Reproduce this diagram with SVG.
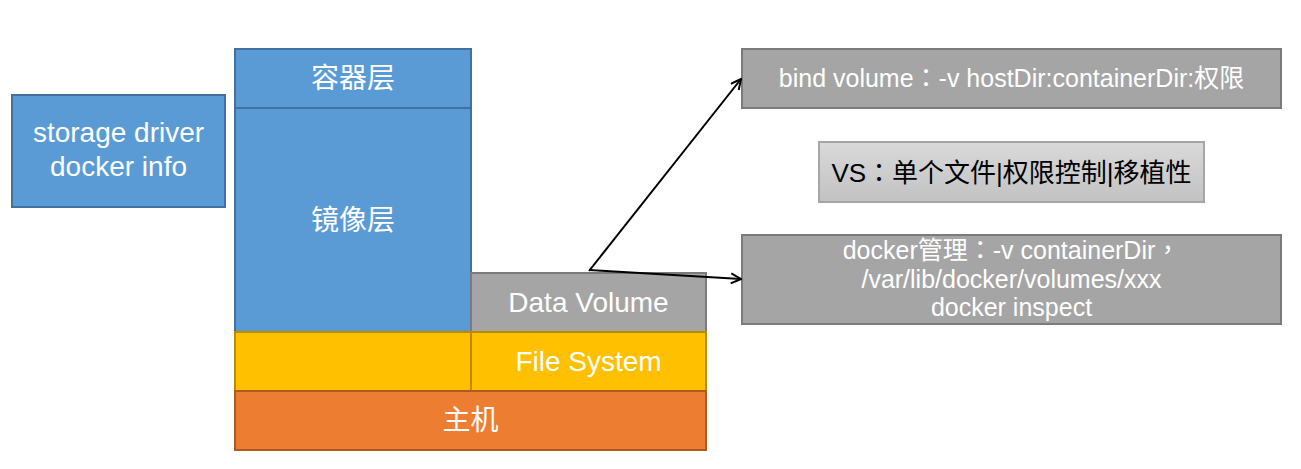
<svg xmlns="http://www.w3.org/2000/svg" width="1301" height="469" viewBox="0 0 1301 469">
  <style>
    text { font-family: "Liberation Sans", "Noto Sans CJK TC", Arial, sans-serif; fill: #ffffff; text-anchor: middle; }
    .big { font-size: 28px; }
    .mid { font-size: 25px; }
    .vs { font-size: 26px; fill: #000000; }
    .blue { fill: #5B9BD5; stroke: #41719C; stroke-width: 2; }
    .yellow { fill: #FFC000; stroke: #BC8C00; stroke-width: 2; }
    .orange { fill: #ED7D31; stroke: #AE5A21; stroke-width: 2; }
    .gray { fill: #A5A5A5; stroke: #7B7B7B; stroke-width: 2; }
    .conn { stroke: #000000; stroke-width: 2; fill: none; }
  </style>
  <defs>
    <linearGradient id="vsGrad" x1="0" y1="0" x2="0" y2="1">
      <stop offset="0" stop-color="#D9D9D9"/>
      <stop offset="1" stop-color="#C2C2C2"/>
    </linearGradient>
    <marker id="arrow" viewBox="0 0 12 12" refX="11" refY="6" markerWidth="12" markerHeight="12" markerUnits="userSpaceOnUse" orient="auto">
      <path d="M1,1 L11,6 L1,11" fill="none" stroke="#000" stroke-width="2"/>
    </marker>
  </defs>

  <g id="storage-driver">
    <rect class="blue" x="12" y="95" width="213" height="112"/>
    <text class="big" x="118.5" y="142">storage driver</text>
    <text class="big" x="118.5" y="176">docker info</text>
  </g>

  <g id="container-layer">
    <rect class="blue" x="235" y="49" width="236" height="59"/>
    <text class="big" x="353" y="88">容器层</text>
  </g>

  <g id="image-layer">
    <rect class="blue" x="235" y="108" width="236" height="224"/>
    <text class="big" x="353" y="230">镜像层</text>
  </g>

  <g id="data-volume">
    <rect class="gray" x="471" y="273" width="235" height="59"/>
    <text class="big" x="588.5" y="312">Data Volume</text>
  </g>

  <g id="fs-left">
    <rect class="yellow" x="235" y="332" width="236" height="59"/>
  </g>

  <g id="file-system">
    <rect class="yellow" x="471" y="332" width="235" height="59"/>
    <text class="big" x="588.5" y="371">File System</text>
  </g>

  <g id="host">
    <rect class="orange" x="235" y="391" width="471" height="59"/>
    <text class="big" x="470.5" y="430">主机</text>
  </g>

  <g id="bind-volume">
    <rect class="gray" x="742" y="49" width="539" height="59"/>
    <text class="mid" x="1011.5" y="87">bind volume：-v hostDir:containerDir:权限</text>
  </g>

  <g id="vs">
    <rect x="819" y="142" width="385" height="60" fill="url(#vsGrad)" stroke="#A6A6A6" stroke-width="2"/>
    <text class="vs" x="1011.5" y="182">VS：单个文件|权限控制|移植性</text>
  </g>

  <g id="docker-managed">
    <rect class="gray" x="742" y="235" width="539" height="89"/>
    <text class="mid" x="1011.5" y="259">docker管理：-v containerDir，</text>
    <text class="mid" x="1011.5" y="288">/var/lib/docker/volumes/xxx</text>
    <text class="mid" x="1011.5" y="316">docker inspect</text>
  </g>

  <g id="connectors">
    <line class="conn" x1="589" y1="271" x2="741" y2="79" marker-end="url(#arrow)"/>
    <line class="conn" x1="589" y1="270" x2="741" y2="279" marker-end="url(#arrow)"/>
  </g>
</svg>
